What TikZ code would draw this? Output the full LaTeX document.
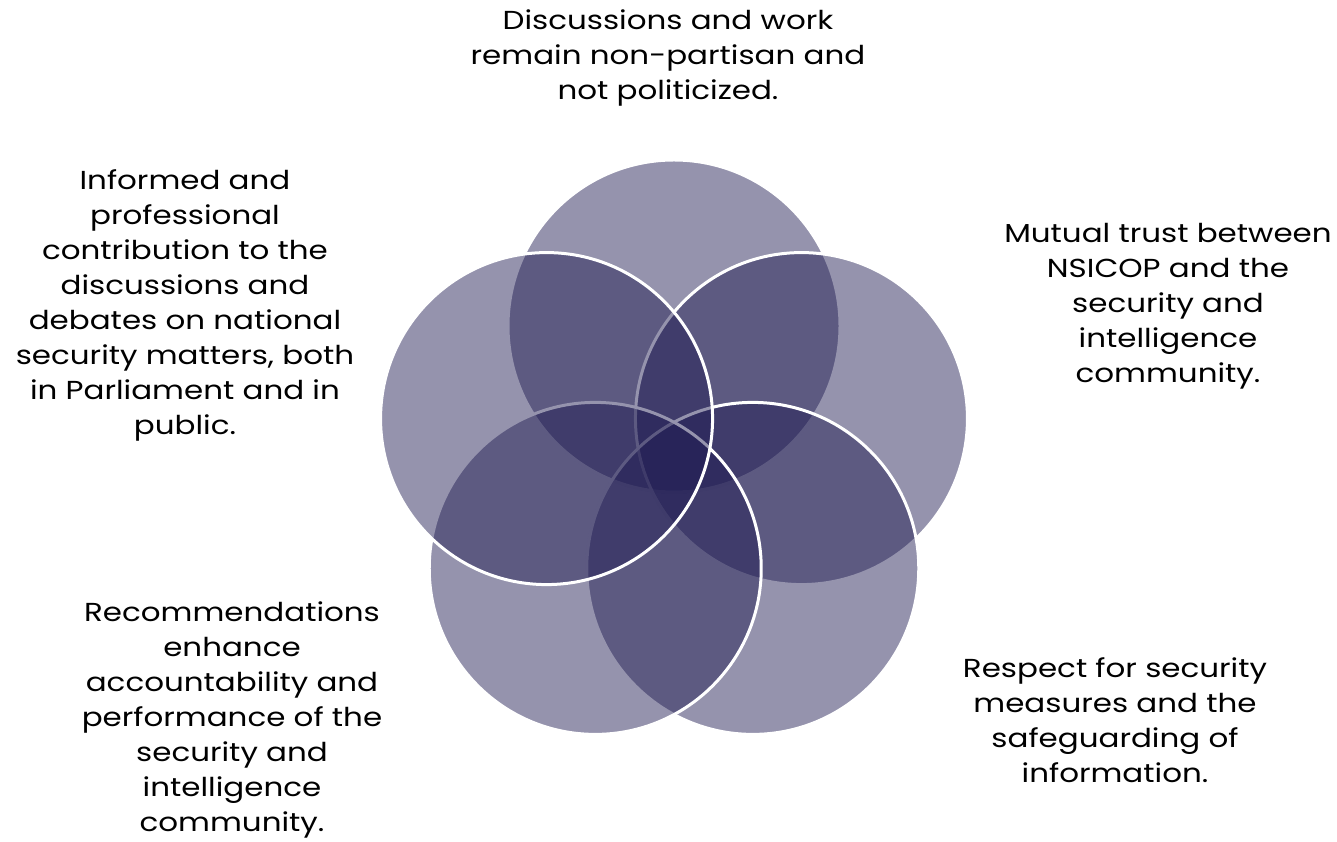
\documentclass[tikz,border=0pt]{standalone}
\usepackage{fontspec}
\setmainfont{Poppins}[FakeStretch=1.19]
\usetikzlibrary{positioning}

\definecolor{venn}{RGB}{30,26,81}

\tikzset{
	ring/.style={fill=venn, fill opacity=0.47, draw=white, line width=3pt},
	caption/.style={align=center, text=black, font=\fontsize{26}{35}\selectfont}
}

\begin{document}
\begin{tikzpicture}[x=1pt, y=1pt]
	\useasboundingbox (0, 0) rectangle (1337, 842);
	\coordinate (O) at (674, 382);

	% top, upper right, lower right, lower left, upper left
	\foreach \a in {90, 18, -54, -126, 162}
		\path[ring] (O) ++(\a:134) circle [radius=166];

	\node[caption] (top) at (668, 784) {Discussions and work\\remain non-partisan and\\not politicized.};
	\node[caption] (right) at (1168, 536) {Mutual trust between\\NSICOP and the\\security and\\intelligence\\community.};
	\node[caption] (lowright) at (1115, 122) {Respect for security\\measures and the\\safeguarding of\\information.};
	\node[caption] (lowleft) at (232, 122) {Recommendations\\enhance\\accountability and\\performance of the\\security and\\intelligence\\community.};
	\node[caption] (left) at (185, 537) {Informed and\\professional\\contribution to the\\discussions and\\debates on national\\security matters, both\\in Parliament and in\\public.};
\end{tikzpicture}
\end{document}
